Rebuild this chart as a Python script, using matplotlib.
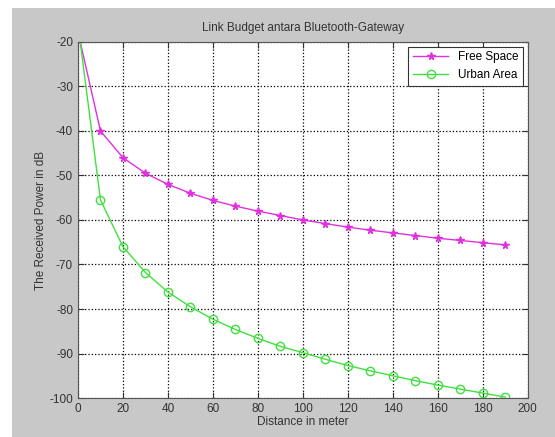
import matplotlib
matplotlib.use("Agg")
import matplotlib.pyplot as plt
from matplotlib.patches import Rectangle

# jarak (meter) dan daya terima (dB)
jarak = [1, 10, 20, 30, 40, 50, 60, 70, 80, 90, 100,
         110, 120, 130, 140, 150, 160, 170, 180, 190]
free_space = [-20, -40, -46, -49.5, -52, -54, -55.6, -56.9, -58, -59, -60,
              -60.8, -61.6, -62.3, -62.9, -63.5, -64.1, -64.6, -65.1, -65.6]
urban_area = [-20, -55.5, -66, -71.8, -76.2, -79.5, -82.3, -84.6, -86.6, -88.4, -89.8,
              -91.3, -92.7, -93.9, -95, -96.1, -97.1, -98, -98.9, -99.8]

plt.rcParams['font.family'] = ['Liberation Sans', 'DejaVu Sans']
plt.rcParams['axes.unicode_minus'] = False

fig = plt.figure(figsize=(5.55, 4.37), dpi=100, facecolor='#c8c8c8')
# pinggir putih kiri dan atas
fig.patches.append(Rectangle((0, 0), 12 / 555, 1, transform=fig.transFigure,
                             facecolor='white', edgecolor='none', zorder=-1))
fig.patches.append(Rectangle((0, 1 - 8 / 437), 1, 8 / 437, transform=fig.transFigure,
                             facecolor='white', edgecolor='none', zorder=-1))

ax = fig.add_axes([0.1405, 0.0892, 0.8105, 0.8148])
ax.plot(jarak, free_space, '-*', color='#e030e0', markersize=5.5, linewidth=1,
        markevery=slice(1, None), label='Free Space')
ax.plot(jarak, urban_area, '-o', color='#40e040', markerfacecolor='none',
        markersize=6, linewidth=1, markevery=slice(1, None), label='Urban Area')

ax.set_xlim(0, 200)
ax.set_ylim(-100, -20)
ax.set_xticks(range(0, 201, 20))
ax.set_yticks(range(-100, -19, 10))
ax.grid(True, linestyle=':', color='black', linewidth=0.9)
ax.tick_params(direction='in', top=True, right=True, labelsize=8.5, length=4,
               colors='#333333')
for s in ax.spines.values():
    s.set_color('#555555')

ax.set_title('Link Budget antara Bluetooth-Gateway', fontsize=8.5, color='#333333', pad=8)
ax.set_xlabel('Distance in meter', fontsize=8.5, color='#333333', labelpad=1)
ax.set_ylabel('The Received Power in dB', fontsize=8.5, color='#333333', labelpad=2)

leg = ax.legend(loc='upper right', fontsize=8.5, fancybox=False, framealpha=1,
                edgecolor='#333333', borderaxespad=0.4, handlelength=3)
leg.get_frame().set_linewidth(0.8)

fig.savefig('out.png', dpi=100, facecolor=fig.get_facecolor())
